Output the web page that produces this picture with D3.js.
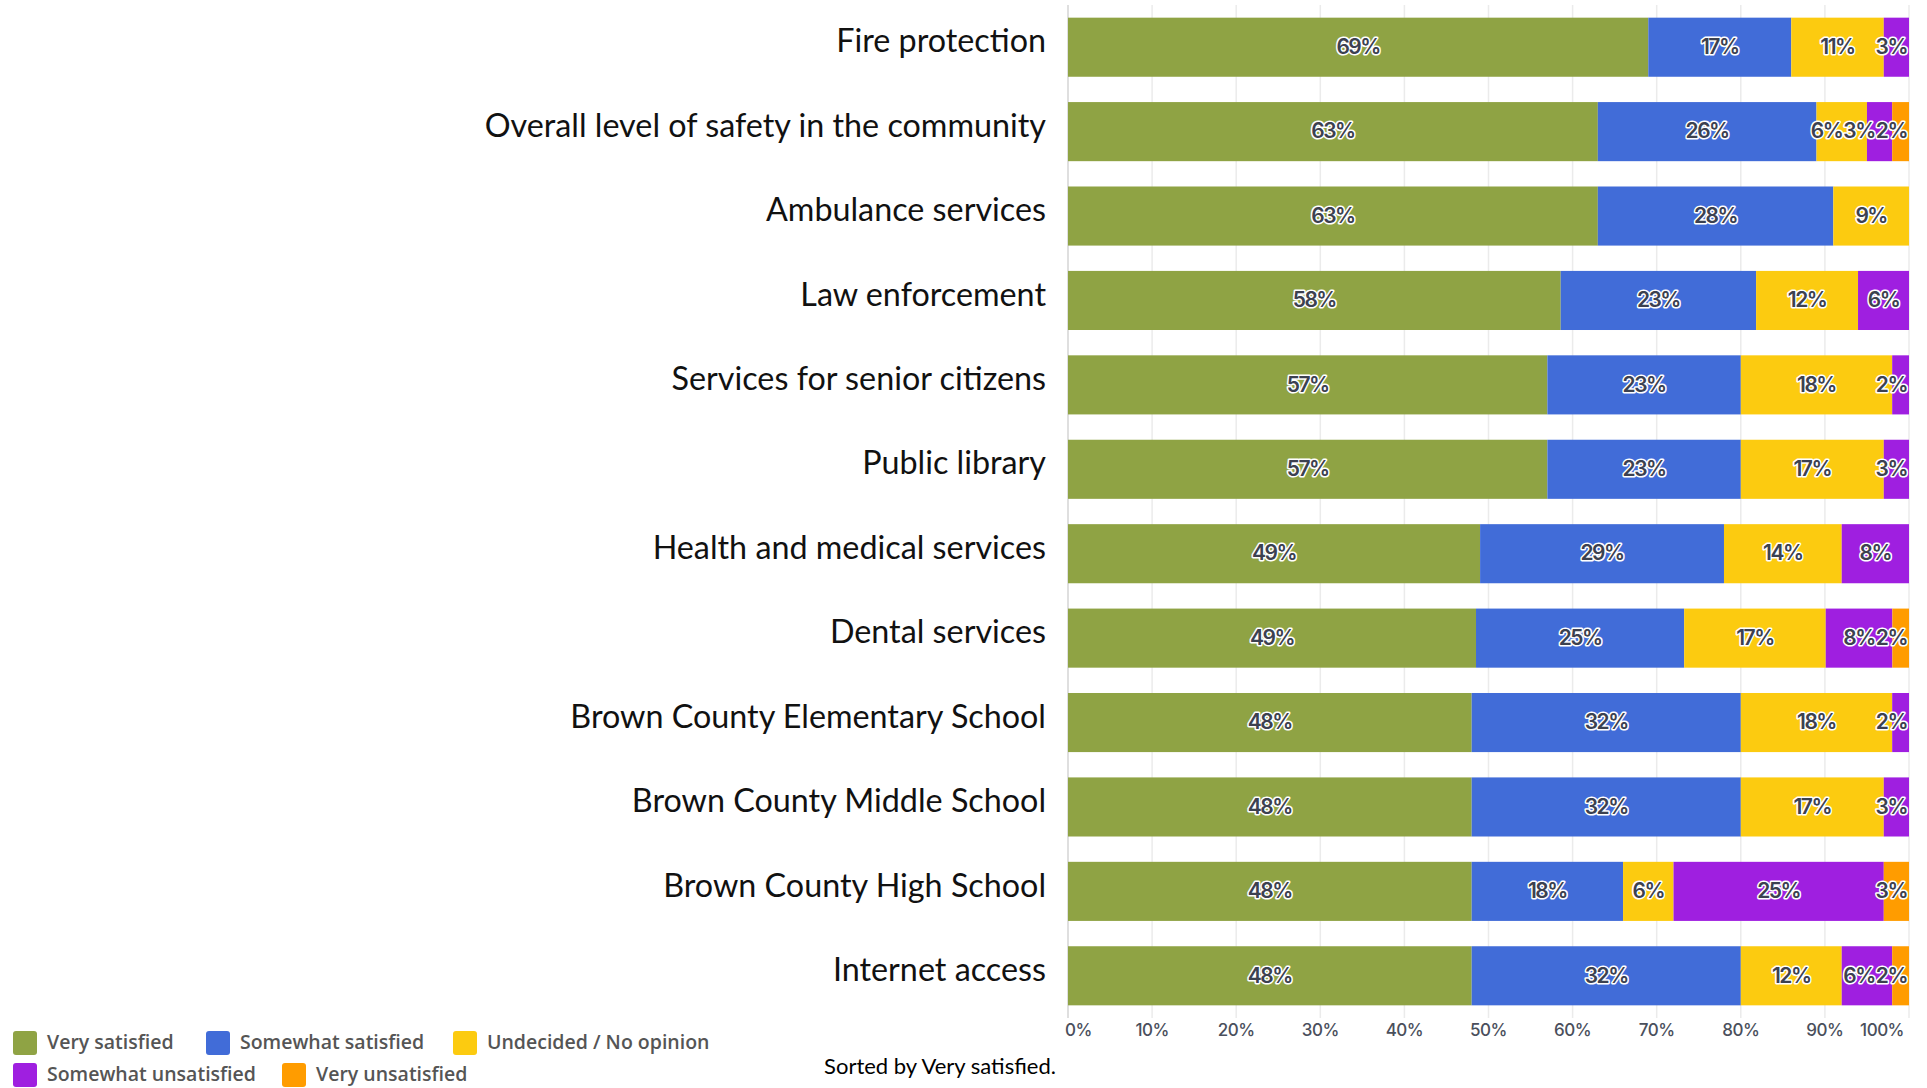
<!DOCTYPE html>
<html><head><meta charset="utf-8">
<script src="https://cdn.jsdelivr.net/npm/d3@7/dist/d3.min.js"></script>
<style>
body{margin:0;background:#fff;}
svg{display:block;}
</style></head><body>
<svg id="c" width="1927" height="1088"></svg>
<script>
const categories = ["Fire protection","Overall level of safety in the community","Ambulance services","Law enforcement","Services for senior citizens","Public library","Health and medical services","Dental services","Brown County Elementary School","Brown County Middle School","Brown County High School","Internet access"];
const seriesNames = ["Very satisfied","Somewhat satisfied","Undecided / No opinion","Somewhat unsatisfied","Very unsatisfied"];
const verySatisfied       = [69,63,63,58,57,57,49,49,48,48,48,48];
const somewhatSatisfied   = [17,26,28,23,23,23,29,25,32,32,18,32];
const undecided           = [11, 6, 9,12,18,17,14,17,18,17, 6,12];
const somewhatUnsatisfied = [ 3, 3, 0, 6, 2, 3, 8, 8, 2, 3,25, 6];
const veryUnsatisfied     = [ 0, 2, 0, 0, 0, 0, 0, 2, 0, 0, 3, 2];
const tickLabels = ["0%","10%","20%","30%","40%","50%","60%","70%","80%","90%","100%"];
const colors = ["#8fa344","#416cd8","#fccb10","#9f1fe0","#ff9c00"];
const footnote = "Sorted by Very satisfied.";

const seriesVals = [verySatisfied, somewhatSatisfied, undecided, somewhatUnsatisfied, veryUnsatisfied];
const rows = categories.map((c,i)=>{const r={cat:c}; seriesNames.forEach((s,j)=>r[s]=seriesVals[j][i]); return r;});
const stack = d3.stack().keys(seriesNames).offset(d3.stackOffsetExpand);
const stacked = stack(rows);

const svg = d3.select("#c");
const x = d3.scaleLinear().domain([0,1]).range([1068,1909]);
const y = d3.scaleBand().domain(categories).range([5,1018]).paddingInner(0.3).paddingOuter(0.15);

// gridlines
const ticks = d3.range(0,1.0001,0.1);
svg.append("g").selectAll("line").data(ticks).join("line")
  .attr("x1",d=>x(d)).attr("x2",d=>x(d)).attr("y1",5).attr("y2",1018)
  .attr("stroke",d=>d===0?"#d4d4d4":"#ebebeb").attr("stroke-width",1.5);

// bars
const g = svg.append("g");
stacked.forEach((s,j)=>{
  g.append("g").selectAll("rect").data(s).join("rect")
    .attr("x",d=>x(d[0])).attr("width",d=>Math.max(0,x(d[1])-x(d[0])))
    .attr("y",d=>y(d.data.cat)).attr("height",y.bandwidth())
    .attr("fill",colors[j]);
});

// labels: one group per row, clamped inside bar end, pushed left when colliding
const lblG = g.append("g");
categories.forEach((c,i)=>{
  const items=[];
  stacked.forEach((s,j)=>{
    const d=s[i]; const v=d.data[seriesNames[j]];
    if(v>0) items.push({d,v});
  });
  const texts = items.map(it=>lblG.append("text")
    .attr("y",y(c)+y.bandwidth()/2+1)
    .attr("text-anchor","middle").attr("dominant-baseline","middle")
    .attr("font-family","Inter").attr("font-weight",600).attr("font-size",21)
    .attr("letter-spacing","-1.5px")
    .attr("fill","#3c4150").attr("stroke","#ffffff").attr("stroke-width",3).attr("paint-order","stroke")
    .attr("stroke-linejoin","round")
    .text(it.v+"%"));
  const ws = texts.map(t=>t.node().getComputedTextLength());
  const cx = items.map((it,k)=>Math.min((x(it.d[0])+x(it.d[1]))/2, x(1)-ws[k]/2-2));
  for(let k=cx.length-2;k>=0;k--){
    const maxC = cx[k+1]-ws[k+1]/2-ws[k]/2-1;
    if(cx[k]>maxC) cx[k]=maxC;
  }
  texts.forEach((t,k)=>t.attr("x",cx[k]));
});

// category labels
svg.append("g").selectAll("text").data(categories).join("text")
  .attr("x",1046).attr("y",d=>y(d)+y.bandwidth()/2-3)
  .attr("text-anchor","end").attr("dominant-baseline","middle")
  .attr("font-family","Lato").attr("font-size",32.3).attr("fill","#111")
  .text(d=>d);

// x tick labels
svg.append("g").selectAll("text").data(ticks).join("text")
  .attr("x",(d,i)=>x(d)+(i===0?-3:(i===ticks.length-1?-5:0))).attr("y",1031)
  .attr("text-anchor",(d,i)=>i===0?"start":(i===ticks.length-1?"end":"middle"))
  .attr("dominant-baseline","middle")
  .attr("font-family","Inter").attr("font-weight",500).attr("font-size",17).attr("letter-spacing","-0.5px")
  .attr("fill","#4a4f5c")
  .text((d,i)=>tickLabels[i]);

// legend
const legendPos = [[13,1043],[206,1043],[453,1043],[13,1075],[282,1075]];
const lg = svg.append("g");
seriesNames.forEach((s,i)=>{
  const [lx,ly]=legendPos[i];
  lg.append("rect").attr("x",lx).attr("y",ly-12).attr("width",24).attr("height",24).attr("rx",3).attr("fill",colors[i]);
  lg.append("text").attr("x",lx+34).attr("y",ly+1).attr("dominant-baseline","middle")
    .attr("font-family","Open Sans").attr("font-weight",600).attr("font-size",19.5).attr("fill","#555")
    .text(s);
});

svg.append("text").attr("x",940).attr("y",1068).attr("text-anchor","middle").attr("dominant-baseline","middle")
  .attr("font-family","Lato").attr("font-size",22).attr("fill","#000").text(footnote);
</script>
</body></html>
